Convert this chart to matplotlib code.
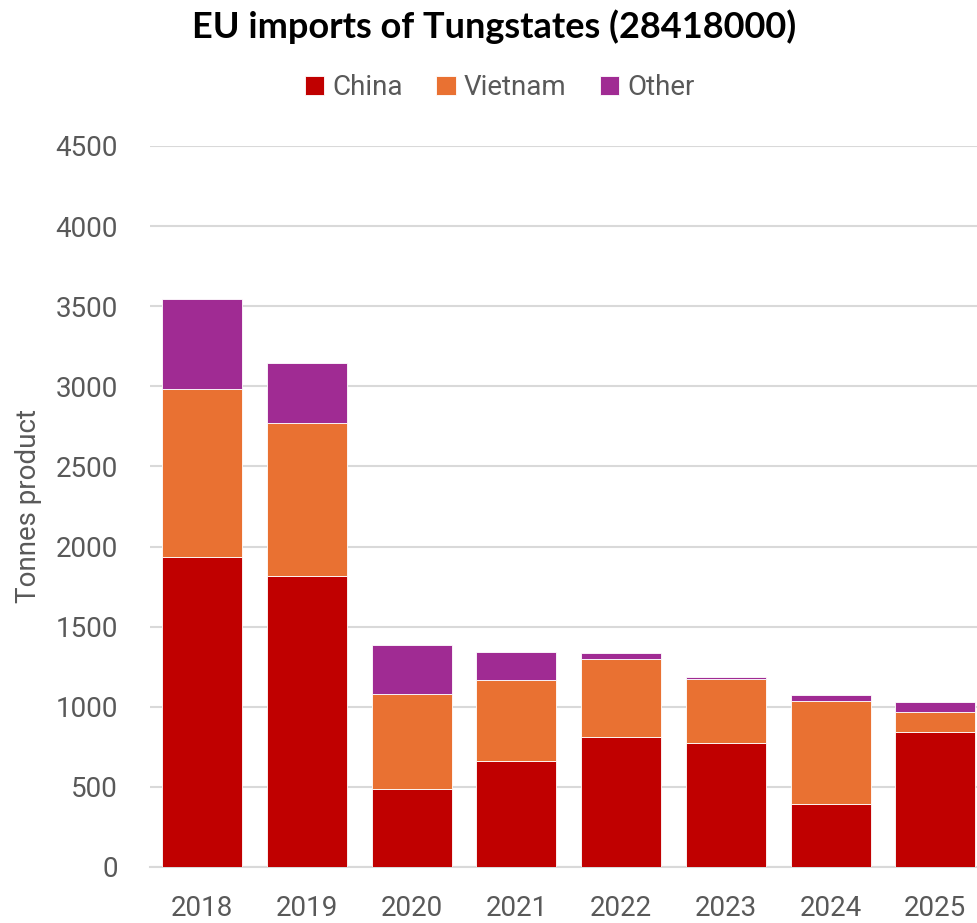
import matplotlib.pyplot as plt
import numpy as np

# EU imports of tungstates, CN 28418000, tonnes of product
years = ["2018", "2019", "2020", "2021", "2022", "2023", "2024", "2025"]
china = [1933, 1818, 489, 663, 813, 774, 395, 845]
vietnam = [1048, 951, 589, 504, 485, 401, 643, 122]
other = [564, 374, 306, 173, 35, 8, 33, 60]

colors = {"China": "#C00000", "Vietnam": "#E97132", "Other": "#A02B93"}
text_grey = "#595959"

fig = plt.figure(figsize=(9.78, 9.23), dpi=100)
ax = fig.add_axes([0.1534, 0.0607, 0.8564, 0.7812])

x = np.arange(len(years))
w = 0.764
bottom = np.zeros(len(years))
for name, vals in [("China", china), ("Vietnam", vietnam), ("Other", other)]:
    ax.bar(x, vals, w, bottom=bottom, color=colors[name], label=name,
           edgecolor="white", linewidth=0.6, zorder=3)
    bottom += np.array(vals)

ax.set_xlim(-0.5, len(years) - 0.5)
ax.set_ylim(0, 4500)
ax.set_yticks(np.arange(0, 4501, 500))
ax.grid(axis="y", color="#d9d9d9", linewidth=1.5, zorder=0)
for s in ["top", "right", "left"]:
    ax.spines[s].set_visible(False)
ax.spines["bottom"].set_color("#d9d9d9")
ax.spines["bottom"].set_linewidth(1.5)

ax.set_xticks(x)
ax.set_xticklabels(years)
ax.tick_params(axis="both", length=0, labelsize=20, labelcolor=text_grey)
ax.tick_params(axis="y", pad=23)
ax.tick_params(axis="x", pad=20)
for lbl in ax.get_xticklabels() + ax.get_yticklabels():
    lbl.set_family("Roboto")

ax.set_ylabel("Tonnes product", fontsize=20, color=text_grey, family="Roboto", labelpad=10)

fig.text(0.505, 0.971, "EU imports of Tungstates (28418000)", ha="center", va="center",
         fontsize=26, fontweight="bold", family="Lato")

leg = fig.legend(loc="center", bbox_to_anchor=(0.511, 0.905), ncol=3, frameon=False,
                 prop={"family": "Roboto", "size": 20}, handlelength=0.7, handleheight=0.7,
                 handletextpad=0.3, columnspacing=1.2)
for t in leg.get_texts():
    t.set_color(text_grey)

fig.savefig("out.png", dpi=100)
